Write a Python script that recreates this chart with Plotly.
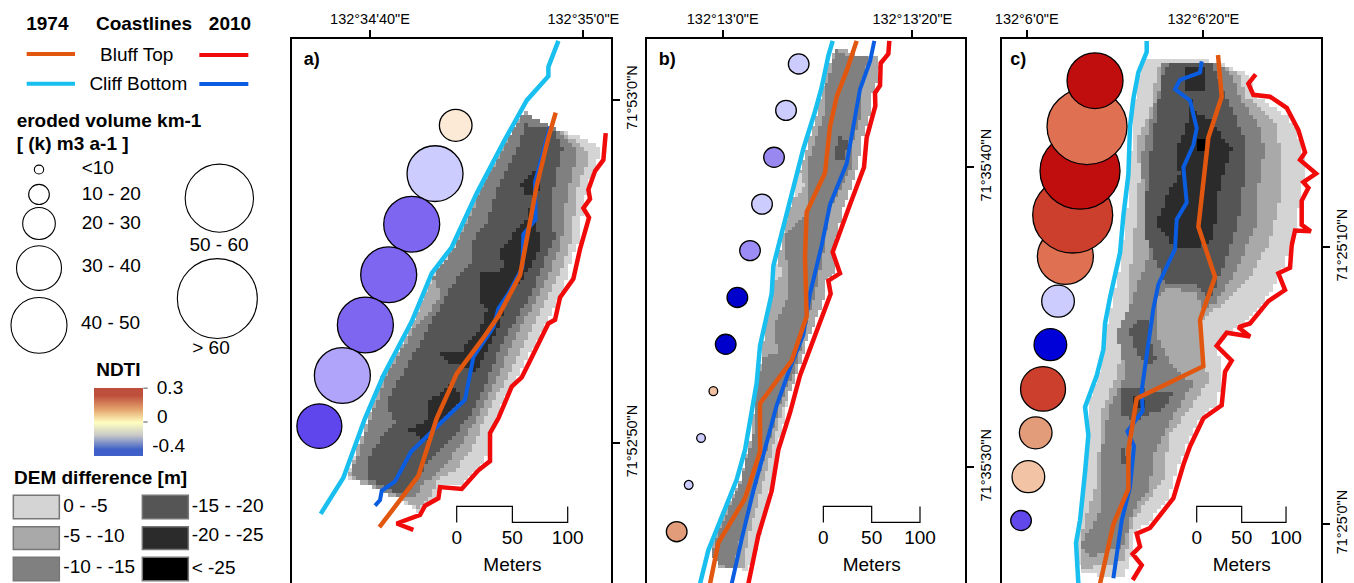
import numpy as np
import plotly.graph_objects as go

W, H = 1354, 583
ORANGE, RED, SKY, BLUE = "#E2570F", "#F00A0A", "#19BFEF", "#0A5CE0"
GRAYS = ["#D4D4D4", "#A9A9A9", "#808080", "#555555", "#2B2B2B", "#000000"]

# ---------- panel a (map units) ----------
A_XTICKS = [255, 895]
A_XLABELS = ["132°34'40\"E", "132°35'0\"E"]
A_YTICKS = [268, 1192]
A_YLABELS = ["71°53'0\"N", "71°52'50\"N"]
A_CLIFF_1974 = [(820,110),(790,180),(790,205),(725,270),(660,375),(575,520),(500,665),(440,735),(380,865),(295,1010),(240,1125),(175,1285),(107,1382)]
A_BLUFF_1974 = [(812,303),(790,370),(755,500),(735,590),(705,740),(640,850),(590,915),(515,1005),(455,1125),(400,1280),(340,1350),(283,1418)]
A_CLIFF_2010 = [(795,340),(770,420),(750,490),(752,590),(715,630),(712,720),(670,790),(640,830),(625,880),(565,960),(540,1075),(470,1135),(378,1215),(330,1295),(290,1320),(285,1345),(270,1360)]
A_BLUFF_2010 = [(962,358),(955,430),(930,460),(910,510),(915,535),(895,560),(912,585),(885,670),(865,750),(825,800),(810,860),(790,870),(735,970),(710,1015),(680,1040),(640,1125),(615,1165),(615,1240),(580,1265),(530,1315),(465,1310),(460,1340),(420,1360),(405,1385),(335,1408),(385,1425)]
A_CIRCLES = [(512,337,98,86,"#FCE9D6"),(450,467,168,150,"#CCCCFF"),(380,603,168,150,"#7F66F0"),(311,739,168,150,"#7F66F0"),(241,874,168,150,"#7F66F0"),(172,1010,168,150,"#AFA3FA"),(103,1146,135,120,"#5F45EC")]
A_BANDS = [
 (1,[(715,300),(810,345),(900,375),(945,395),(940,430),(910,500),(895,560),(885,640),(860,700),(840,770),(810,830),(780,880),(730,960),(690,1030),(650,1090),(620,1170),(600,1240),(530,1300),(470,1300),(450,1340),(400,1375),(340,1340),(260,1310),(185,1285),(220,1200),(290,1020),(380,880),(440,740),(510,650),(580,510),(650,400)]),
 (2,[(715,300),(810,345),(880,385),(915,420),(880,500),(870,560),(860,640),(840,700),(800,780),(770,830),(720,920),(690,980),(640,1060),(600,1130),(560,1210),(510,1270),(460,1290),(440,1330),(400,1365),(340,1340),(260,1310),(190,1285),(220,1200),(290,1020),(380,880),(440,750),(510,660),(580,510),(650,400)]),
 (3,[(715,305),(810,345),(860,385),(880,400),(860,480),(840,560),(830,650),(800,720),(770,780),(720,860),(670,950),(620,1050),(580,1120),(540,1180),(500,1230),(470,1260),(420,1300),(380,1340),(330,1330),(250,1300),(195,1280),(230,1200),(300,1020),(390,880),(470,800),(445,740),(520,650),(590,510),(660,390)]),
 (4,[(720,335),(800,345),(835,400),(815,470),(800,540),(810,640),(770,720),(740,790),(680,880),(630,970),(590,1060),(560,1110),(510,1170),(450,1220),(410,1270),(370,1320),(320,1320),(250,1290),(245,1240),(290,1180),(330,1140),(305,1080),(350,1010),(420,900),(500,770),(560,700),(560,650),(610,590),(640,500),(700,400)]),
 (5,[(755,450),(765,500),(745,580),(770,660),(730,730),(700,760),(670,800),(640,880),(600,960),(570,1000),(530,985),(480,970),(465,950),(530,950),(540,930),(590,880),(600,850),(610,830),(580,810),(585,730),(640,730),(660,715),(640,680),(695,620),(725,590),(750,525),(715,525),(710,490)]),
 (5,[(425,1080),(430,1130),(370,1155),(420,1185),(470,1130),(530,1075),(500,1030),(460,1065)]),
]
A_SCALE = [515, 682, 848]

# ---------- panel b ----------
B_XTICKS = [248, 817]
B_XLABELS = ["132°13'0\"E", "132°13'20\"E"]
B_YTICKS = [450, 1257]
B_YLABELS = ["71°35'40\"N", "71°35'30\"N"]
B_CLIFF_1974 = [(578,110),(565,150),(545,235),(525,300),(490,400),(465,490),(435,590),(400,715),(395,790),(375,870),(360,930),(350,1030),(335,1110),(315,1210),(290,1290),(240,1400),(205,1480),(180,1570)]
B_BLUFF_1974 = [(650,110),(620,190),(590,260),(570,340),(555,465),(500,570),(495,690),(500,850),(455,970),(360,1085),(360,1215),(315,1340),(235,1460),(210,1570)]
B_CLIFF_2010 = [(703,110),(690,165),(660,240),(640,340),(620,440),(570,550),(545,660),(510,790),(490,900),(450,990),(410,1090),(380,1190),(340,1320),(305,1450),(275,1570)]
B_BLUFF_2010 = [(748,110),(745,145),(722,170),(720,230),(705,250),(706,285),(680,370),(672,450),(630,550),(578,678),(600,735),(565,755),(572,790),(530,890),(480,1010),(450,1110),(415,1210),(395,1320),(355,1440),(325,1570)]
B_CIRCLES = [(476,172,62,54,"#CCCCFF"),(438,297,62,54,"#CCCCFF"),(402,423,62,54,"#9988F0"),(366,549,62,54,"#CCCCFF"),(330,674,62,54,"#9C8CF5"),(292,800,62,54,"#0000CC"),(257,926,62,54,"#0000CC"),(220,1052,26,24,"#F0C0A0"),(183,1178,26,24,"#CCCCFF"),(146,1304,26,24,"#CCCCFF"),(110,1430,62,54,"#E39C7A")]
B_BANDS = [
 (1,[(450,1060),(420,1180),(390,1320),(345,1500),(320,1535),(300,1530),(400,1100)]),
 (2,[(585,130),(620,135),(650,150),(715,155),(722,185),(700,250),(695,300),(670,370),(655,440),(610,560),(580,670),(590,735),(560,750),(560,790),(500,920),(460,1030),(420,1120),(390,1230),(360,1330),(325,1440),(310,1530),(240,1525),(210,1490),(240,1400),(300,1290),(330,1190),(350,1030),(370,920),(400,750),(440,590),(480,460),(530,310),(560,190)]),
 (1,[(480,465),(495,500),(470,530),(465,490)]),
 (1,[(415,700),(425,740),(408,760),(402,720)]),
 (3,[(590,135),(625,150),(690,150),(670,210),(670,290),(640,380),(640,440),(570,560),(550,680),(530,770),(500,870),(470,980),(420,1090),(380,1210),(350,1300),(310,1420),(280,1530),(240,1520),(215,1490),(240,1420),(300,1300),(340,1170),(345,1050),(370,960),(415,950),(400,880),(450,790),(440,700),(430,640),(500,570),(510,470),(510,420),(550,310),(560,220)]),
 (4,[(600,370),(625,375),(615,430),(590,425),(585,400)]),
]
B_SCALE = [550, 695, 840]

# ---------- panel c ----------
C_XTICKS = [110, 640]
C_XLABELS = ["132°6'0\"E", "132°6'20\"E"]
C_YTICKS = [665, 1410]
C_YLABELS = ["71°25'10\"N", "71°25'0\"N"]
C_CLIFF_1974 = [(470,110),(470,140),(445,195),(430,265),(420,340),(415,470),(400,580),(390,680),(360,800),(345,870),(340,940),(320,1010),(285,1095),(295,1170),(285,1270),(270,1400),(258,1460),(265,1570)]
C_BLUFF_1974 = [(684,148),(695,260),(655,370),(625,610),(675,745),(630,860),(640,985),(440,1072),(415,1210),(415,1315),(370,1410),(330,1570)]
C_CLIFF_2010 = [(635,165),(630,195),(570,215),(555,240),(600,270),(620,345),(610,390),(580,450),(590,545),(560,590),(555,670),(505,765),(490,830),(470,960),(455,1050),(458,1105),(412,1160),(432,1200),(420,1310),(395,1400),(370,1555)]
C_BLUFF_2010 = [(797,200),(775,225),(790,255),(840,260),(890,290),(925,350),(945,410),(930,430),(978,467),(940,490),(955,505),(935,540),(935,605),(962,622),(915,620),(905,660),(900,720),(865,735),(885,780),(835,810),(780,870),(745,880),(780,905),(710,895),(680,930),(725,970),(705,1000),(695,1090),(640,1125),(600,1200),(580,1250),(550,1340),(480,1420),(440,1435),(450,1470),(428,1490),(455,1520),(428,1560)]
C_CIRCLES = [(226,690,168,150,"#DF7152"),(248,578,240,205,"#CC3F2D"),(270,460,240,205,"#C00D0D"),(291,340,240,205,"#DF7152"),(315,217,168,150,"#C00D0D"),(204,810,98,86,"#CCCCFF"),(181,927,98,86,"#0000D9"),(159,1046,135,120,"#CC3F2D"),(137,1164,98,86,"#E39C7A"),(115,1282,98,86,"#F2C4A5"),(93,1400,62,54,"#6048EA")]
C_BANDS = [
 (1,[(470,155),(680,165),(770,200),(800,260),(890,310),(925,360),(945,440),(950,470),(930,520),(925,610),(900,660),(880,720),(840,790),(790,850),(720,890),(680,930),(700,1000),(680,1090),(630,1130),(590,1200),(560,1270),(530,1350),(470,1410),(425,1435),(425,1500),(400,1555),(270,1540),(260,1450),(285,1300),(295,1170),(295,1090),(330,1000),(350,880),(390,720),(410,580),(420,470),(430,300),(450,190)]),
 (2,[(520,165),(690,170),(750,200),(770,260),(860,330),(875,430),(870,540),(840,650),(770,760),(680,830),(640,860),(640,960),(660,1020),(600,1100),(540,1170),(520,1290),(470,1350),(430,1400),(405,1510),(270,1530),(270,1450),(320,1300),(340,1100),(385,1000),(410,870),(420,740),(435,620),(450,480),(445,370),(490,280),(500,190)]),
 (3,[(520,165),(680,175),(730,200),(750,260),(810,340),(825,400),(810,470),(800,600),(740,730),(680,810),(640,830),(620,790),(540,770),(500,800),(500,900),(530,960),(560,1000),(610,1030),(570,1090),(520,1170),(490,1230),(480,1310),(430,1370),(400,1470),(300,1500),(270,1470),(330,1380),(340,1200),(360,1090),(410,1000),(380,900),(430,800),(480,680),(465,550),(455,420),(490,300),(520,200)]),
 (4,[(535,170),(670,175),(700,240),(740,320),(770,390),(760,500),(745,600),(700,720),(660,810),(620,760),(525,760),(470,640),(470,530),(480,430),(495,340),(510,260),(520,200)]),
 (4,[(420,880),(470,850),(490,950),(510,970),(470,980),(430,930)]),
 (4,[(400,1040),(550,1060),(520,1100),(440,1130),(390,1120)]),
 (4,[(405,1190),(420,1260),(390,1240)]),
 (5,[(590,175),(650,185),(650,240),(600,240),(610,300),(660,320),(700,370),(725,400),(690,500),(680,570),(670,640),(620,670),(550,660),(500,600),(540,510),(570,470),(560,400),(590,350),(600,280),(590,230)]),
 (5,[(430,1060),(470,1075),(455,1110),(435,1090)]),
 (6,[(620,375),(645,375),(640,410),(620,410)]),
]
C_SCALE = [620, 755, 888]

# ---------- legend ----------
LEG_LINES = [((80,145),(225,145),ORANGE),((598,148),(745,148),RED),((80,225),(225,225),SKY),((598,226),(745,226),BLUE)]
LEG_CIRCLES = [(117,456,28,24),(117,523,62,54),(117,601,98,86),(117,721,135,120),(117,875,168,150),(658,533,205,183),(652,803,240,215)]
LEG_SWATCHES = [(40,1332,178,1395,0),(40,1417,178,1478,1),(40,1499,178,1562,2),(427,1332,565,1395,3),(427,1417,565,1478,4),(427,1499,565,1562,5)]
LEG_BOLD = [(142,68,"1974","center"),(432,68,"Coastlines","center"),(690,68,"2010","center"),(50,330,"eroded volume km-1","left"),(50,390,"[ (k) m3 a-1 ]","left"),(355,998,"NDTI","center"),(42,1290,"DEM difference [m]","left")]
LEG_PLAIN = [(410,150,"Bluff Top","center"),(415,228,"Cliff Bottom","center"),(245,455,"<10","left"),(245,525,"10 - 20","left"),(245,603,"20 - 30","left"),(245,720,"30 - 40","left"),(243,872,"40 - 50","left"),(657,662,"50 - 60","center"),(633,938,"> 60","center"),(510,1047,"0.3","center"),(487,1125,"0","center"),(506,1203,"-0.4","center"),(190,1363,"0 - -5","left"),(190,1445,"-5 - -10","left"),(190,1528,"-10 - -15","left"),(575,1363,"-15 - -20","left"),(575,1442,"-20 - -25","left"),(575,1530,"< -25","left")]
NDTI_X = [319, 393]
NDTI_Y = [1062, 1099, 1135, 1171, 1208]
NDTI_Z = [[0.3,0.3],[0.15,0.15],[0,0],[-0.2,-0.2],[-0.4,-0.4]]
NDTI_SCALE = [[0,"#3F60C8"],[0.29,"#C8C8C8"],[0.57,"#FFFFC0"],[0.78,"#E5A66E"],[1,"#BE4F3C"]]
NDTI_TICKS = [1044, 1135]

FONT = "Liberation Sans, Arial, sans-serif"
MAP_H = 1568   # map units spanned by the figure height
fig = go.Figure()


def inside(px, py, poly):
    xs, ys = np.array(poly, float).T
    xn, yn = np.roll(xs, -1), np.roll(ys, -1)
    hit = np.zeros(px.shape, bool)
    for x0, y0, x1, y1 in zip(xs, ys, xn, yn):
        if y0 == y1:
            continue
        c = ((y0 > py) != (y1 > py)) & (px < (x1 - x0) * (py - y0) / (y1 - y0) + x0)
        hit ^= c
    return hit


def draw_raster(bands, cell, ax):
    xc = np.arange(160, 980, cell)
    yc = np.arange(110, 1580, cell * 0.9)
    px, py = np.meshgrid(xc, yc)
    z = np.zeros(px.shape)
    for level, poly in bands:
        z[inside(px, py, poly)] = level
    z[z == 0] = np.nan
    n = len(GRAYS)
    scale = []
    for i, c in enumerate(GRAYS):
        scale += [[i / n, c], [(i + 1) / n, c]]
    fig.add_trace(go.Heatmap(x=xc, y=yc, z=z.tolist(), colorscale=scale, zmin=0.5, zmax=n + 0.5,
                             showscale=False, hoverongaps=False, xaxis=f"x{ax}", yaxis=f"y{ax}"))


def draw_line(pts, color, width, ax):
    x, y = zip(*pts)
    fig.add_trace(go.Scatter(x=x, y=y, mode="lines", line=dict(color=color, width=width),
                             xaxis=f"x{ax}", yaxis=f"y{ax}"))


def ellipse(ax, cx, cy, w, h, fill, lw=1.3):
    fig.add_shape(type="circle", xref=f"x{ax}", yref=f"y{ax}", x0=cx - w / 2, x1=cx + w / 2,
                  y0=cy - h / 2, y1=cy + h / 2, fillcolor=fill, line=dict(color="black", width=lw), layer="above")


def text(ax, x, y, s, size=19, bold=False, align="center"):
    pos = {"center": "middle center", "left": "middle right"}[align]
    fig.add_trace(go.Scatter(x=[x], y=[y], mode="text", text=[f"<b>{s}</b>" if bold else s],
                             textposition=pos, cliponaxis=False,
                             textfont=dict(family=FONT, size=size, color="black"),
                             xaxis=f"x{ax}", yaxis=f"y{ax}"))


def panel(ax, bands, cell, lines, circles, scale, letter, letter_x):
    draw_raster(bands, cell, ax)
    cliff74, bluff74, cliff10, bluff10 = lines
    draw_line(bluff10, RED, 4.5, ax)
    draw_line(cliff74, SKY, 4.5, ax)
    draw_line(cliff10, BLUE, 4, ax)
    draw_line(bluff74, ORANGE, 4.5, ax)
    for c in circles:
        ellipse(ax, *c)
    x0, x1, x2 = scale
    draw = [(x0, 1405), (x0, 1362), (x1, 1362), (x1, 1405), (x2, 1405), (x2, 1362)]
    draw_line(draw, "black", 1.2, ax)
    for xv, label in zip(scale, ["0", "50", "100"]):
        text(ax, xv, 1450, label)
    text(ax, x1, 1522, "Meters")
    text(ax, letter_x, 162, letter, size=18, bold=True)


panel(1, A_BANDS, 12, (A_CLIFF_1974, A_BLUFF_1974, A_CLIFF_2010, A_BLUFF_2010), A_CIRCLES, A_SCALE, "a)", 80)
panel(2, B_BANDS, 10, (B_CLIFF_1974, B_BLUFF_1974, B_CLIFF_2010, B_BLUFF_2010), B_CIRCLES, B_SCALE, "b)", 82)
panel(3, C_BANDS, 12, (C_CLIFF_1974, C_BLUFF_1974, C_CLIFF_2010, C_BLUFF_2010), C_CIRCLES, C_SCALE, "c)", 85)

# legend
for p0, p1, col in LEG_LINES:
    fig.add_trace(go.Scatter(x=[p0[0], p1[0]], y=[p0[1], p1[1]], mode="lines",
                             line=dict(color=col, width=4), xaxis="x4", yaxis="y4"))
for c in LEG_CIRCLES:
    ellipse(4, *c, "white", 1.1)
for x0, y0, x1, y1, i in LEG_SWATCHES:
    fig.add_shape(type="rect", xref="x4", yref="y4", x0=x0, x1=x1, y0=y0, y1=y1,
                  fillcolor=GRAYS[i], line=dict(color="#777777", width=1.5))
fig.add_trace(go.Heatmap(x=NDTI_X, y=NDTI_Y, z=NDTI_Z, colorscale=NDTI_SCALE, zsmooth="best",
                         showscale=False, xaxis="x4", yaxis="y4"))
for yv in NDTI_TICKS:
    draw_line([(430, yv), (443, yv)], "#555555", 1, 4)
for x, y, s, al in LEG_BOLD:
    text(4, x, y, s, bold=True, align=al)
for x, y, s, al in LEG_PLAIN:
    text(4, x, y, s, align=al)

PANELS = [(1, 20, 977, 291.7, 610.7, A_XTICKS, A_XLABELS, A_YTICKS, A_YLABELS),
          (2, 20, 975, 646.7, 965.0, B_XTICKS, B_XLABELS, B_YTICKS, B_YLABELS),
          (3, 35, 992, 1001.7, 1320.7, C_XTICKS, C_XLABELS, C_YTICKS, C_YLABELS)]
TOP_UNITS = 105
axes = {}
for ax, r0, r1, p0, p1, xt, xl, yt, yl in PANELS:
    s = "" if ax == 1 else str(ax)
    tick = dict(ticks="outside", ticklen=7, tickwidth=1.6, tickcolor="black", showgrid=False, zeroline=False,
                showline=True, linecolor="black", linewidth=2,
                tickfont=dict(family=FONT, size=14.5, color="black"))
    axes[f"xaxis{s}"] = dict(domain=[p0 / W, p1 / W], range=[r0, r1], side="top", anchor=f"y{s}",
                             tickmode="array", tickvals=xt, ticktext=xl, tickangle=0, **tick)
    axes[f"yaxis{s}"] = dict(domain=[0, 1 - TOP_UNITS / MAP_H], range=[MAP_H, TOP_UNITS], side="right", anchor=f"x{s}", mirror=True,
                             tickmode="array", tickvals=yt, ticktext=yl, tickangle=-90, **tick)
axes["xaxis4"] = dict(domain=[0, 290 / W], range=[0, 870], visible=False, anchor="y4")
axes["yaxis4"] = dict(domain=[0, 1], range=[MAP_H, 0], visible=False, anchor="x4")

fig.update_layout(width=W, height=H, margin=dict(l=0, r=0, t=0, b=0, autoexpand=False), showlegend=False,
                  paper_bgcolor="white", plot_bgcolor="white", hovermode=False, **axes)
fig.write_html("out.html", config={"displayModeBar": False},
               post_script="document.body.style.margin='0';document.body.style.overflow='hidden';")
